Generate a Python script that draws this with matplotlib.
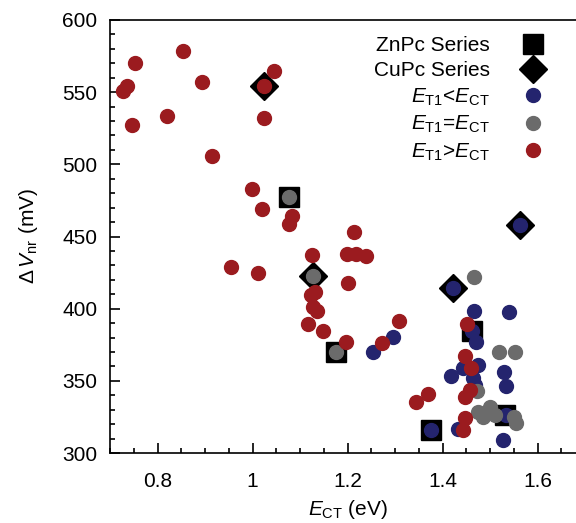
import matplotlib
matplotlib.use('Agg')
import matplotlib.pyplot as plt
from matplotlib.lines import Line2D
from matplotlib.ticker import MultipleLocator

plt.rcParams['font.family'] = ['Liberation Sans', 'DejaVu Sans']
plt.rcParams['mathtext.fontset'] = 'custom'
plt.rcParams['mathtext.rm'] = 'Liberation Sans'
plt.rcParams['mathtext.it'] = 'Liberation Sans:italic'

# data (E_CT in eV, dV_nr in mV)
blue_x = [1.254, 1.296, 1.423, 1.466, 1.540, 1.463, 1.470, 1.475, 1.444, 1.417,
          1.530, 1.534, 1.465, 1.468, 1.534, 1.433, 1.375, 1.527, 1.563]
blue_y = [369.8, 380.2, 414.6, 398.6, 397.9, 384.8, 376.7, 361.0, 358.7, 353.4,
          356.3, 346.6, 351.7, 347.0, 326.3, 316.6, 315.8, 309.0, 458.0]

gray_x = [1.077, 1.128, 1.175, 1.466, 1.519, 1.553, 1.472, 1.475, 1.486, 1.500,
          1.511, 1.550, 1.555]
gray_y = [477.7, 422.3, 369.8, 422.2, 370.2, 370.2, 343.2, 328.6, 325.2, 332.1,
          326.3, 325.0, 320.5]

red_x = [0.753, 0.853, 0.735, 0.728, 0.746, 0.821, 0.894, 0.914, 1.045, 1.024,
         1.024, 0.999, 1.019, 1.084, 1.077, 1.214, 1.126, 1.198, 1.218, 1.238,
         0.955, 1.012, 1.202, 1.132, 1.123, 1.127, 1.135, 1.116, 1.149, 1.196,
         1.309, 1.273, 1.452, 1.447, 1.459, 1.458, 1.447, 1.370, 1.344, 1.447,
         1.444]
red_y = [570.0, 578.8, 554.5, 550.9, 527.3, 533.8, 557.0, 506.0, 564.7, 554.3,
         532.0, 482.7, 468.8, 464.2, 458.5, 453.4, 437.2, 437.7, 437.7, 436.7,
         429.2, 424.6, 418.0, 411.8, 409.5, 401.4, 398.4, 389.2, 384.8, 377.1,
         391.6, 376.5, 389.4, 366.9, 359.1, 343.7, 339.0, 340.6, 335.5, 324.0,
         316.0]

znpc_x = [1.077, 1.175, 1.375, 1.463, 1.532]
znpc_y = [477.7, 369.8, 315.8, 384.8, 326.3]

cupc_x = [1.024, 1.128, 1.423, 1.563]
cupc_y = [554.3, 422.3, 414.6, 458.0]

c_blue = '#24246e'
c_gray = '#6b6b6b'
c_red = '#9b1b1f'

fig = plt.figure(figsize=(5.76, 5.23), dpi=100)
ax = fig.add_axes([0.191, 0.1338, 0.8247, 0.828])

ax.plot(znpc_x, znpc_y, 's', color='black', markersize=13.7, linestyle='none')
ax.plot(cupc_x, cupc_y, 'D', color='black', markersize=14.3, linestyle='none')
ax.plot(blue_x, blue_y, 'o', color=c_blue, markersize=10, linestyle='none')
ax.plot(gray_x, gray_y, 'o', color=c_gray, markersize=10, linestyle='none')
ax.plot(red_x, red_y, 'o', color=c_red, markersize=10, linestyle='none')

ax.set_xlim(0.7, 1.7)
ax.set_ylim(300, 600)
ax.xaxis.set_major_locator(MultipleLocator(0.2))
ax.xaxis.set_minor_locator(MultipleLocator(0.05))
ax.yaxis.set_major_locator(MultipleLocator(50))
ax.yaxis.set_minor_locator(MultipleLocator(10))
ax.set_xticks([0.8, 1.0, 1.2, 1.4, 1.6])
ax.set_xticklabels(['0.8', '1', '1.2', '1.4', '1.6'])
ax.tick_params(which='both', direction='in', top=False, right=False,
               labelsize=15, width=1.2)
ax.tick_params(axis='x', which='major', length=7.2, pad=14)
ax.tick_params(axis='y', which='major', length=7.2, pad=9)
ax.tick_params(which='minor', length=3.6)
for s in ax.spines.values():
    s.set_linewidth(1.2)

ax.set_xlabel(r'$E_{\mathrm{CT}}$ (eV)', fontsize=15, labelpad=5)
ax.set_ylabel(r'$\Delta\,V_{\mathrm{nr}}$ (mV)', fontsize=15, labelpad=16)

handles = [
    Line2D([], [], marker='s', color='black', markersize=13.7, linestyle='none'),
    Line2D([], [], marker='D', color='black', markersize=14.3, linestyle='none'),
    Line2D([], [], marker='o', color=c_blue, markersize=10, linestyle='none'),
    Line2D([], [], marker='o', color=c_gray, markersize=10, linestyle='none'),
    Line2D([], [], marker='o', color=c_red, markersize=10, linestyle='none'),
]
labels = ['ZnPc Series', 'CuPc Series',
          r'$E_{\mathrm{T1}}$<$E_{\mathrm{CT}}$',
          r'$E_{\mathrm{T1}}$=$E_{\mathrm{CT}}$',
          r'$E_{\mathrm{T1}}$>$E_{\mathrm{CT}}$']
fig.legend(handles, labels, markerfirst=False, frameon=False, fontsize=15,
           loc='upper right', bbox_to_anchor=(0.979, 0.951),
           handletextpad=1.05, labelspacing=0.3, borderpad=0)

fig.savefig('out.png', dpi=100)
